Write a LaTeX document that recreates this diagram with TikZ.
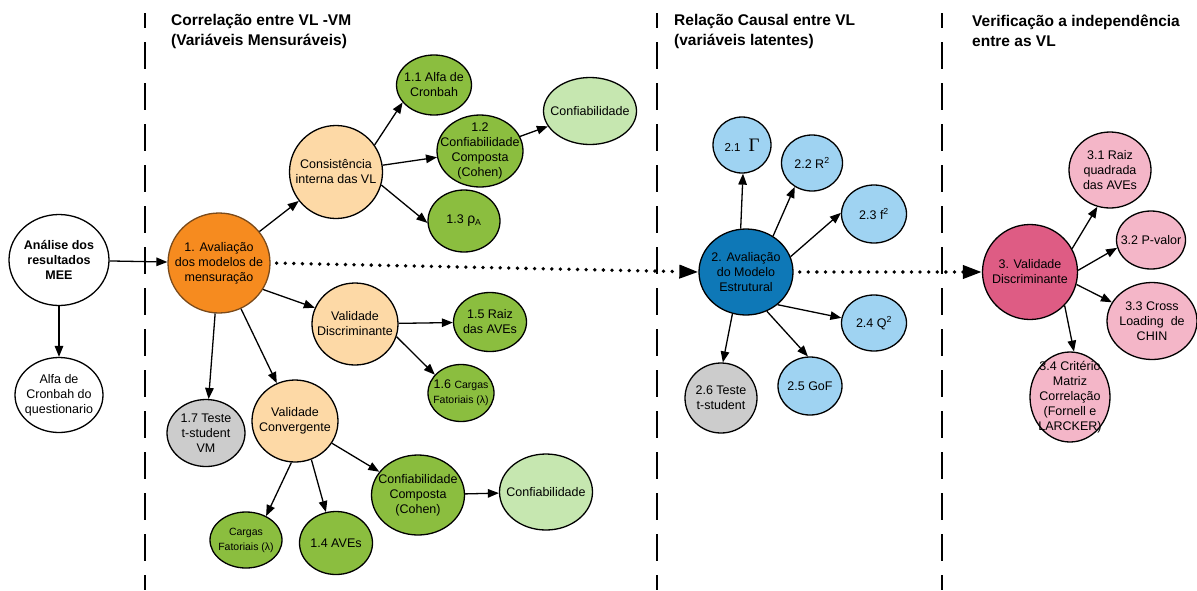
\documentclass[tikz,border=0pt]{standalone}
\usepackage{fontspec}
\setmainfont{Liberation Sans}
\newfontfamily\serifgr{Liberation Serif}
\usetikzlibrary{shapes.geometric,arrows.meta}

\definecolor{cOrange}{HTML}{F68B1F}
\definecolor{cOrangeLine}{HTML}{7A4A1A}
\definecolor{cPeach}{HTML}{FDD9A6}
\definecolor{cGreen}{HTML}{8BBE3F}
\definecolor{cLightGreen}{HTML}{C6E7B0}
\definecolor{cGray}{HTML}{CCCCCC}
\definecolor{cBlue}{HTML}{0E78B7}
\definecolor{cLightBlue}{HTML}{9FD3F2}
\definecolor{cRose}{HTML}{DE5C84}
\definecolor{cPink}{HTML}{F4B6C8}

% bubble: name, x, y, width, height, fill, text
\newcommand\bubble[7]{%
  \node[bub, fill=#6, minimum width=#4pt, minimum height=#5pt] (#1) at (#2,#3) {};
  \node[txt] (#1-t) at (#1) {#7};
}
\newcommand\smalltxt{\fontsize{10.5}{14}\selectfont}

\begin{document}
\begin{tikzpicture}[x=1pt,y=-1pt,
  bub/.style={ellipse, draw=black, line width=1.3pt, inner sep=0pt},
  txt/.style={inner sep=0pt, align=center, text=black, font=\fontsize{12.5}{15}\selectfont},
  hdr/.style={inner sep=0pt, align=left, anchor=north west, font=\bfseries\fontsize{15.5}{20}\selectfont},
  arr/.style={line width=1.3pt, -{Triangle[length=11pt,width=8.5pt]}},
  dotarr/.style={line width=3.8pt, dash pattern=on 0pt off 8.6pt, line cap=round,
                 shorten <=6pt, -{Triangle[length=19pt,width=13pt]}},
  sep/.style={line width=1.6pt, dash pattern=on 27pt off 14pt, dash phase=12pt}
]
\useasboundingbox (0,0) rectangle (1197,590);

% column separators
\coordinate (s1t) at (145,13);  \coordinate (s1b) at (145,590);
\coordinate (s2t) at (657,13);  \coordinate (s2b) at (657,590);
\coordinate (s3t) at (942,13);  \coordinate (s3b) at (942,590);
\draw[sep] (s1t) -- (s1b);
\draw[sep] (s2t) -- (s2b);
\draw[sep] (s3t) -- (s3b);

% column headings
\node[hdr] (h1) at (171,14.5) {Correlação entre VL -VM\\(Variáveis Mensuráveis)};
\node[hdr] (h2) at (674,14.5) {Relação Causal entre VL\\(variáveis latentes)};
\node[hdr] (h3) at (972,14.5) {Verificação a independência\\entre as VL};

% start
\bubble{an}{59}{260}{100}{91}{white}{\bfseries Análise dos\\\bfseries resultados\\\bfseries MEE}
\bubble{aq}{59}{395}{88}{75}{white}{Alfa de\\Cronbah do\\questionario}

% measurement model
\node[bub, fill=cOrange, draw=cOrangeLine, minimum width=102pt, minimum height=100pt] (a1) at (219,263) {};
\node[txt] (a1-t) at (a1) {1. Avaliação\\dos modelos de\\mensuração};
\bubble{cons}{336}{172}{93}{93}{cPeach}{Consistência\\interna das VL}
\bubble{alfa}{434}{85}{75}{60}{cGreen}{1.1 Alfa de\\Cronbah}
\bubble{c12}{480}{151}{86}{72}{cGreen}{1.2\\Confiabilidade\\Composta\\(Cohen)}
\bubble{conf1}{590}{111}{93}{67}{cLightGreen}{Confiabilidade}
\bubble{r13}{464}{221}{72}{62}{cGreen}{1.3 {\fontsize{14}{15}\selectfont ρ}\textsubscript{A}}
\bubble{vd}{355}{324}{86}{82}{cPeach}{Validade\\Discriminante}
\bubble{r15}{490}{322}{73}{59}{cGreen}{1.5 Raiz\\das AVEs}
\bubble{c16}{461}{393}{66}{57}{cGreen}{1.6 {\smalltxt Cargas}\\{\smalltxt Fatoriais (λ)}}
\bubble{t17}{206}{433}{78}{67}{cGray}{1.7 Teste\\t-student\\VM}
\bubble{vc}{295}{421}{86}{82}{cPeach}{Validade\\Convergente}
\bubble{cf}{246}{540}{72}{56}{cGreen}{\smalltxt Cargas\\\smalltxt Fatoriais (λ)}
\bubble{r14}{336}{543}{73}{63}{cGreen}{1.4 AVEs}
\bubble{cc}{418}{495}{93}{80}{cGreen}{Confiabilidade\\Composta\\(Cohen)}
\bubble{conf2}{546}{492}{93}{76}{cLightGreen}{Confiabilidade}

% structural model
\bubble{a2}{746}{272}{94}{86}{cBlue}{2. Avaliação\\do Modelo\\Estrutural}
\bubble{r21}{742}{145}{58}{56}{cLightBlue}{{\fontsize{11.5}{14}\selectfont 2.1}\hspace{8pt}{\serifgr\fontsize{19}{19}\selectfont Γ}}
\bubble{r22}{812}{163}{61}{56}{cLightBlue}{2.2 R\textsuperscript{2}}
\bubble{r23}{874}{214}{65}{58}{cLightBlue}{2.3 f\textsuperscript{2}}
\bubble{r24}{874}{323}{65}{56}{cLightBlue}{2.4 Q\textsuperscript{2}}
\bubble{r25}{810}{386}{64}{58}{cLightBlue}{2.5 GoF}
\bubble{t26}{721}{398}{72}{70}{cGray}{2.6 Teste\\t-student}

% discriminant validity
\bubble{a3}{1030}{272}{95}{95}{cRose}{3. Validade\\Discriminante}
\bubble{r31}{1110}{170}{82}{76}{cPink}{3.1 Raiz\\quadrada\\das AVEs}
\bubble{r32}{1151}{240}{69}{58}{cPink}{3.2 P-valor}
\bubble{r33}{1152}{321}{90}{77}{cPink}{3.3 Cross\\Loading\ \ de\\CHIN}
\bubble{r34}{1070}{397}{80}{90}{cPink}{3.4 Critério\\Matriz\\Correlação\\(Fornell e\\LARCKER)}

% connectors
\draw[arr] (an) -- (a1);
\draw[arr] (an) -- (aq);

\draw[arr] (a1) -- (cons);
\draw[arr] (a1.-31) -- (vd.158);
\draw[arr] (a1) -- (t17);
\draw[arr] (a1) -- (vc);

\draw[arr] (cons.35) -- (alfa.209);
\draw[arr] (cons) -- (c12);
\draw[arr] (cons.-16) -- (r13.183);
\draw[arr] (c12) -- (conf1);

\draw[arr] (vd) -- (r15);
\draw[arr] (vd.-17) -- (c16.145);

\draw[arr] (vc.-95) -- (cf.50);
\draw[arr] (vc.-67) -- (r14.108);
\draw[arr] (vc) -- (cc);
\draw[arr] (cc) -- (conf2);

\draw[arr] (a2.97) -- (r21.-88);
\draw[arr] (a2.53) -- (r22.234);
\draw[arr] (a2.19) -- (r23.178);
\draw[arr] (a2.-46) -- (r24.171);
\draw[arr] (a2.-62) -- (r25.94);
\draw[arr] (a2.-108) -- (t26.87);

\draw[arr] (a3.29) -- (r31.251);
\draw[arr] (a3.2) -- (r32.193);
\draw[arr] (a3.-15) -- (r33.155);
\draw[arr] (a3.-44) -- (r34.85);

% flow between the three stages
\draw[dotarr] (a1.east) -- (a2.west);
\draw[dotarr] (a2.east) -- (a3.west);
\end{tikzpicture}
\end{document}
